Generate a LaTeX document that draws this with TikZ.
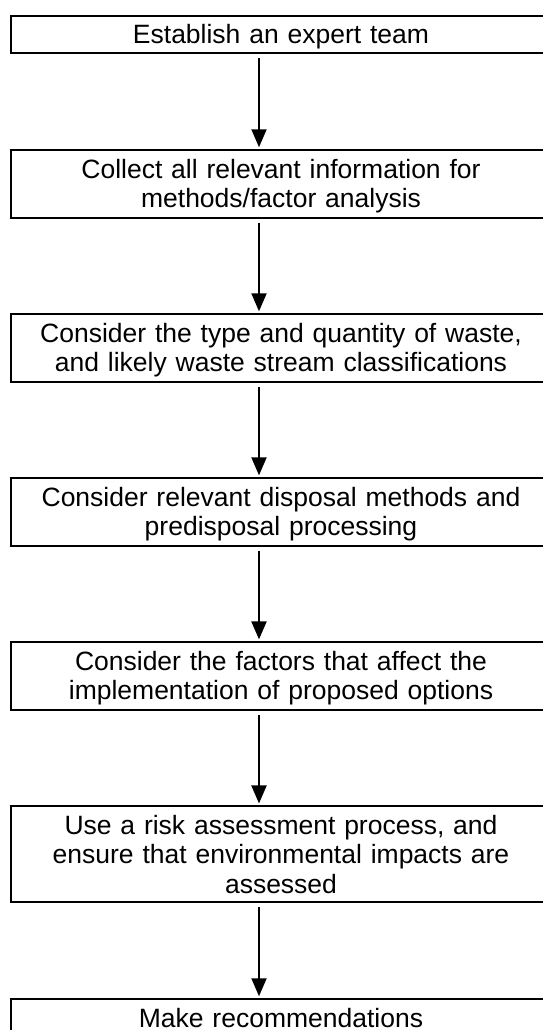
\documentclass[tikz,border=0pt]{standalone}
\usepackage{fontspec}
\setmainfont{Liberation Sans}
\usetikzlibrary{positioning}
\usetikzlibrary{arrows.meta}

\begin{document}
\begin{tikzpicture}[node distance=48.4pt,
    stepbox/.style={draw, line width=1pt, outer sep=0pt, text width=270pt, inner xsep=0pt,
      inner ysep=2.125pt, align=center, font=\fontsize{13.25pt}{14.75pt}\selectfont,
      execute at begin node=\rule{0pt}{11.875pt},
      execute at end node=\rule[-2.375pt]{0pt}{0pt}},
    flow/.style={-{Triangle[length=9pt,width=7.5pt]}, line width=1pt,
      shorten <=2.5pt, shorten >=1.5pt}]
   \useasboundingbox (0,0) rectangle (271pt,-515pt);

   \node (team)    [stepbox, anchor=north] at (140.5pt,-7.85pt) {Establish an expert team};
   \node (info)    [stepbox, below=of team]    {Collect all relevant information for\\ methods/factor analysis};
   \node (waste)   [stepbox, below=of info]    {Consider the type and quantity of waste,\\ and likely waste stream classifications};
   \node (methods) [stepbox, below=of waste]   {Consider relevant disposal methods and\\ predisposal processing};
   \node (factors) [stepbox, below=of methods] {Consider the factors that affect the\\ implementation of proposed options};
   \node (risk)    [stepbox, below=of factors] {Use a risk assessment process, and\\ ensure that environmental impacts are\\ assessed};
   \node (recs)    [stepbox, below=of risk]    {Make recommendations};

   \draw[flow] ([xshift=-11pt]team.south)    -- ([xshift=-11pt]info.north);
   \draw[flow] ([xshift=-11pt]info.south)    -- ([xshift=-11pt]waste.north);
   \draw[flow] ([xshift=-11pt]waste.south)   -- ([xshift=-11pt]methods.north);
   \draw[flow] ([xshift=-11pt]methods.south) -- ([xshift=-11pt]factors.north);
   \draw[flow] ([xshift=-11pt]factors.south) -- ([xshift=-11pt]risk.north);
   \draw[flow] ([xshift=-11pt]risk.south)    -- ([xshift=-11pt]recs.north);
\end{tikzpicture}
\end{document}
